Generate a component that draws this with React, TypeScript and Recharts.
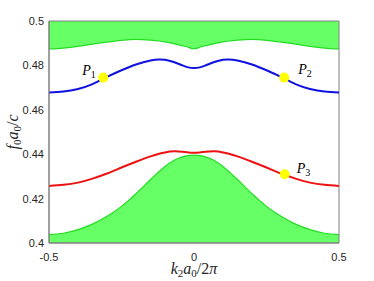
import { Area, ComposedChart, Line, ReferenceArea, Scatter, XAxis, YAxis } from 'recharts'

// wave number k2*a0/2pi
const kValues = [
  -0.5, -0.45, -0.4, -0.35, -0.3, -0.25, -0.2, -0.15, -0.12, -0.1, -0.07, -0.04, -0.02, 0,
  0.02, 0.04, 0.07, 0.1, 0.12, 0.15, 0.2, 0.25, 0.3, 0.35, 0.4, 0.45, 0.5,
]
// lower edge of the upper bulk band
const upperBandEdge = [
  0.4874, 0.4878, 0.4886, 0.4896, 0.4905, 0.4913, 0.4917, 0.4914, 0.491, 0.4906, 0.4898, 0.4889, 0.4882, 0.4875,
  0.4882, 0.4889, 0.4898, 0.4906, 0.491, 0.4914, 0.4917, 0.4913, 0.4905, 0.4896, 0.4886, 0.4878, 0.4874,
]
// blue edge state
const blueBand = [
  0.4678, 0.4682, 0.4694, 0.4716, 0.4748, 0.4778, 0.4804, 0.4822, 0.4827, 0.4825, 0.4815, 0.48, 0.4791, 0.4788,
  0.4791, 0.48, 0.4815, 0.4825, 0.4827, 0.4822, 0.4804, 0.4778, 0.4748, 0.4716, 0.4694, 0.4682, 0.4678,
]
// red edge state
const redBand = [
  0.4257, 0.4262, 0.4272, 0.429, 0.4313, 0.434, 0.4366, 0.439, 0.4402, 0.4408, 0.4413, 0.4411, 0.4408, 0.4406,
  0.4408, 0.4411, 0.4413, 0.4408, 0.4402, 0.439, 0.4366, 0.434, 0.4313, 0.429, 0.4272, 0.4262, 0.4257,
]
// upper edge of the lower bulk band
const lowerBandEdge = [
  0.4038, 0.4044, 0.406, 0.4085, 0.412, 0.4165, 0.4222, 0.4286, 0.4322, 0.4345, 0.4372, 0.4388, 0.4394, 0.4396,
  0.4394, 0.4388, 0.4372, 0.4345, 0.4322, 0.4286, 0.4222, 0.4165, 0.412, 0.4085, 0.406, 0.4044, 0.4038,
]

const markerNames = ['1', '2', '3']
const markerK = [-0.313, 0.311, 0.3126]
const markerF = [0.4745, 0.4745, 0.431]

const xTicks = [-0.5, 0, 0.5]
const yTicks = [0.4, 0.42, 0.44, 0.46, 0.48, 0.5]

const rows = kValues.map((k, i) => ({
  k,
  upper: upperBandEdge[i],
  blue: blueBand[i],
  red: redBand[i],
  lower: lowerBandEdge[i],
}))
const markers = markerNames.map((name, i) => ({ name, k: markerK[i], f: markerF[i] }))

const labelOffset: Record<string, { dx: number; dy: number }> = {
  '1': { dx: -21, dy: -3 },
  '2': { dx: 14, dy: -4 },
  '3': { dx: 12, dy: -1 },
}

const FRAME = '#808080'
const TICK_FONT = { fontSize: 11, fill: '#262626', fontFamily: 'Liberation Sans, Arial, sans-serif' }
const MATH_FONT = 'Liberation Serif, Times New Roman, serif'
const noLabel = () => <g />

function Marker(props: any) {
  const { cx, cy, payload } = props
  const off = labelOffset[payload.name]
  return (
    <g>
      <circle cx={cx} cy={cy} r={5} fill="#ffff00" />
      <text x={cx + off.dx} y={cy + off.dy} fontFamily={MATH_FONT} fontStyle="italic" fontSize={14} fill="#000">
        P
        <tspan fontStyle="normal" fontSize={10} dy={3}>
          {payload.name}
        </tspan>
      </text>
    </g>
  )
}

function XLabel({ viewBox }: any) {
  const cx = viewBox.x + viewBox.width / 2
  return (
    <text x={cx} y={viewBox.y + 31} textAnchor="middle" fontFamily={MATH_FONT} fontSize={16} fill="#262626">
      <tspan fontStyle="italic">k</tspan>
      <tspan fontSize={11} dy={3}>2</tspan>
      <tspan fontStyle="italic" dy={-3}>a</tspan>
      <tspan fontSize={11} dy={3}>0</tspan>
      <tspan dy={-3}>/2</tspan>
      <tspan fontStyle="italic">π</tspan>
    </text>
  )
}

function YLabel({ viewBox }: any) {
  const cy = viewBox.y + viewBox.height / 2
  const x = 18
  return (
    <text
      x={x}
      y={cy}
      transform={`rotate(-90 ${x} ${cy})`}
      textAnchor="middle"
      fontFamily={MATH_FONT}
      fontSize={16}
      fill="#262626"
    >
      <tspan fontStyle="italic">f</tspan>
      <tspan fontSize={11} dy={3}>0</tspan>
      <tspan fontStyle="italic" dy={-3}>a</tspan>
      <tspan fontSize={11} dy={3}>0</tspan>
      <tspan dy={-3}>/</tspan>
      <tspan fontStyle="italic">c</tspan>
    </text>
  )
}

export default function App() {
  return (
    <div style={{ position: 'absolute', left: 0, top: 0, width: 374, height: 281, background: '#fff' }}>
      <ComposedChart width={374} height={281} data={rows} margin={{ top: 21, right: 35, bottom: 0, left: 8 }}>
        <Area
          dataKey="upper"
          type="natural"
          baseValue={0.5}
          fill="#66ff66"
          fillOpacity={1}
          stroke="#22dd22"
          strokeWidth={1.2}
          isAnimationActive={false}
          activeDot={false}
        />
        <Area
          dataKey="lower"
          type="natural"
          baseValue={0.4}
          fill="#66ff66"
          fillOpacity={1}
          stroke="#22dd22"
          strokeWidth={1.2}
          isAnimationActive={false}
          activeDot={false}
        />
        <Line dataKey="blue" type="natural" stroke="#1010e0" strokeWidth={2} dot={false} activeDot={false} isAnimationActive={false} />
        <Line dataKey="red" type="natural" stroke="#ee1111" strokeWidth={2} dot={false} activeDot={false} isAnimationActive={false} />
        <Scatter data={markers} dataKey="f" shape={Marker} isAnimationActive={false} />

        <XAxis
          dataKey="k"
          type="number"
          domain={[-0.5, 0.5]}
          ticks={xTicks}
          tickFormatter={(v) => String(v)}
          tick={TICK_FONT}
          tickLine={false}
          tickSize={0}
          tickMargin={10}
          height={38}
          stroke={FRAME}
          label={<XLabel />}
        />
        <XAxis xAxisId="bottomTicks" type="number" domain={[-0.5, 0.5]} ticks={xTicks} mirror tick={noLabel} tickSize={3} height={0} stroke={FRAME} allowDataOverflow />
        <XAxis xAxisId="top" orientation="top" type="number" domain={[-0.5, 0.5]} ticks={xTicks} mirror tick={noLabel} tickSize={3} height={0} stroke={FRAME} allowDataOverflow />
        <YAxis
          type="number"
          domain={[0.4, 0.5]}
          ticks={yTicks}
          tickFormatter={(v) => String(Number(v.toFixed(2)))}
          tick={TICK_FONT}
          tickLine={false}
          tickSize={0}
          tickMargin={5}
          width={41}
          stroke={FRAME}
          allowDataOverflow
          label={<YLabel />}
        />
        <YAxis yAxisId="leftTicks" type="number" domain={[0.4, 0.5]} ticks={yTicks} mirror tick={noLabel} tickSize={3} width={0} stroke={FRAME} allowDataOverflow />
        <YAxis yAxisId="right" orientation="right" type="number" domain={[0.4, 0.5]} ticks={yTicks} mirror tick={noLabel} tickSize={3} width={0} stroke={FRAME} allowDataOverflow />
        <ReferenceArea x1={-0.5} x2={0.5} y1={0.4} y2={0.5} fill="none" stroke={FRAME} strokeWidth={1} ifOverflow="visible" />
      </ComposedChart>
    </div>
  )
}
